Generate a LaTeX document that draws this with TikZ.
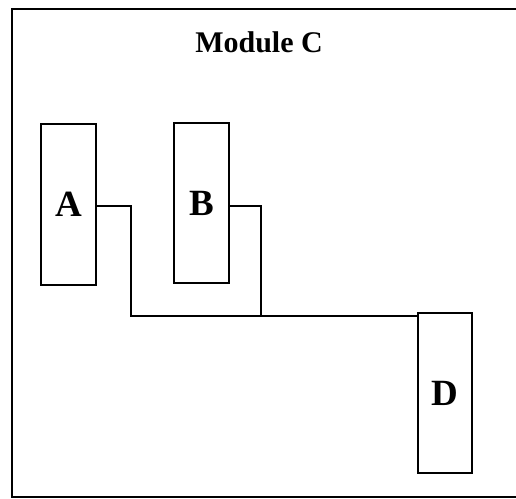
\documentclass[tikz,border=0pt]{standalone}
\usepackage{fontspec}
\setmainfont{Liberation Serif}
\begin{document}
\begin{tikzpicture}[x=1bp,y=-1bp,
  modbox/.style={draw, line width=2.6bp, inner sep=0pt, minimum width=55bp, minimum height=161bp,
    font=\fontsize{37bp}{40bp}\selectfont\bfseries},
  wire/.style={line width=2.6bp},
  frame/.style={line width=2.6bp}]
\useasboundingbox (0,0) rectangle (516,499);
\draw[frame] (516,9) -- (12,9) -- (12,497) -- (516,497);
\node[font=\fontsize{30bp}{32bp}\selectfont\bfseries, anchor=base] (title) at (259,53) {Module C};
\node[modbox] (A) at (68.5,204.5) {A};
\node[modbox, minimum height=160bp] (B) at (201.5,203) {B};
\node[modbox, minimum width=54bp, minimum height=160bp] (D) at (445,393) {D};
\coordinate (jA) at (131,316);
\coordinate (jB) at (261,316);
\draw[wire] ([yshift=-1.5bp]A.east) -| (jA) -- (jA -| D.west);
\draw[wire] ([yshift=-3bp]B.east) -| (jB);
\end{tikzpicture}
\end{document}
